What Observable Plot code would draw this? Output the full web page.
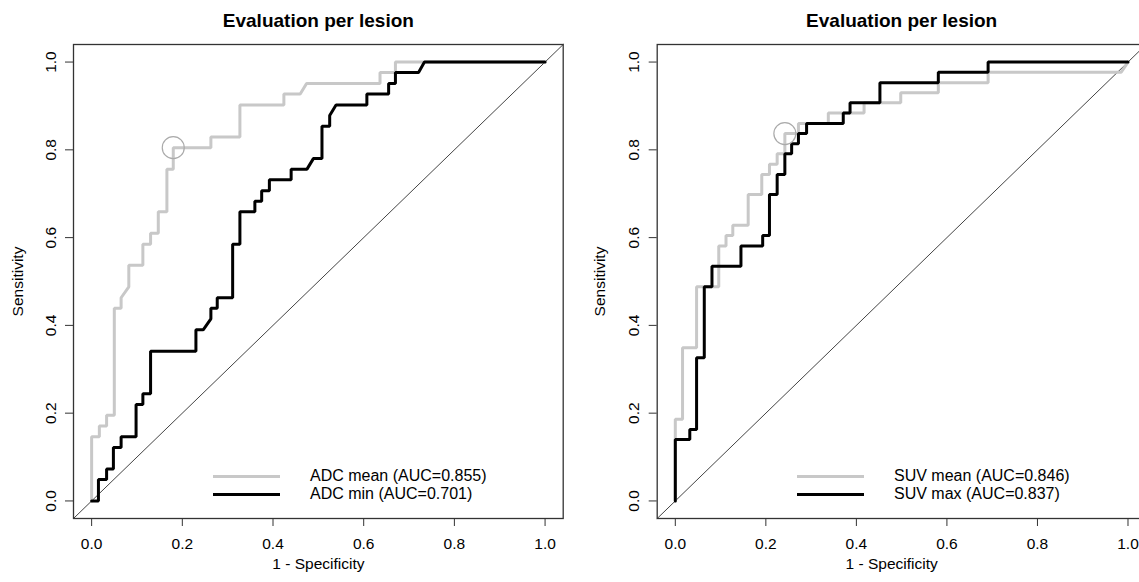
<!DOCTYPE html>
<html>
<head>
<meta charset="utf-8">
<script src="https://cdn.jsdelivr.net/npm/d3@7"></script>
<script src="https://cdn.jsdelivr.net/npm/@observablehq/plot@0.6"></script>
<style>
  html, body { margin: 0; padding: 0; background: #fff; }
  #wrap { position: relative; width: 1139px; height: 582px; overflow: hidden; font-family: "Liberation Sans", Arial, sans-serif; }
  #wrap svg.plot { position: absolute; top: 0; }
  .legend { position: absolute; font-size: 16px; color: #000; }
  .legend .row { display: flex; align-items: center; height: 18px; }
  .legend .sw { width: 67px; height: 3px; margin-right: 30px; }
</style>
</head>
<body>
<div id="wrap"></div>
<script>
// ---- data ----
const title = "Evaluation per lesion";
const xLabel = "1 - Specificity";
const yLabel = "Sensitivity";
const ticks = [0, 0.2, 0.4, 0.6, 0.8, 1.0];
const axisDomain = [-0.04, 1.04];
const chanceLine = [-0.04, 1.04];

// Left panel: ADC
const adcMeanLabel = "ADC mean (AUC=0.855)";
const adcMeanFpr = [0,0,0.017,0.017,0.033,0.033,0.050,0.050,0.065,0.065,0.082,0.082,0.113,0.113,0.130,0.130,0.147,0.147,0.166,0.166,0.180,0.180,0.263,0.263,0.327,0.327,0.424,0.424,0.460,0.474,0.636,0.636,0.670,0.670,1];
const adcMeanTpr = [0,0.146,0.146,0.171,0.171,0.195,0.195,0.439,0.439,0.463,0.488,0.537,0.537,0.585,0.585,0.610,0.610,0.659,0.659,0.756,0.756,0.805,0.805,0.829,0.829,0.902,0.902,0.927,0.927,0.951,0.951,0.976,0.976,1,1];
const adcMinLabel = "ADC min (AUC=0.701)";
const adcMinFpr = [0,0.015,0.015,0.033,0.033,0.048,0.048,0.065,0.065,0.098,0.098,0.113,0.113,0.130,0.130,0.230,0.230,0.246,0.263,0.263,0.277,0.277,0.311,0.311,0.327,0.327,0.360,0.360,0.375,0.375,0.392,0.392,0.440,0.440,0.475,0.489,0.508,0.508,0.525,0.525,0.539,0.607,0.607,0.655,0.655,0.670,0.670,0.721,0.734,1];
const adcMinTpr = [0,0,0.049,0.049,0.073,0.073,0.122,0.122,0.146,0.146,0.220,0.220,0.244,0.244,0.341,0.341,0.390,0.390,0.415,0.439,0.439,0.463,0.463,0.585,0.585,0.659,0.659,0.683,0.683,0.707,0.707,0.732,0.732,0.756,0.756,0.780,0.780,0.854,0.854,0.878,0.902,0.902,0.927,0.927,0.951,0.951,0.976,0.976,1,1];
const adcBest = {fpr: 0.180, tpr: 0.805};

// Right panel: SUV
const suvMeanLabel = "SUV mean (AUC=0.846)";
const suvMeanFpr = [0,0,0.016,0.016,0.047,0.047,0.096,0.096,0.112,0.112,0.127,0.127,0.161,0.161,0.191,0.191,0.208,0.208,0.225,0.225,0.242,0.242,0.272,0.272,0.338,0.338,0.417,0.417,0.498,0.498,0.581,0.581,0.691,0.691,0.985,1];
const suvMeanTpr = [0,0.186,0.186,0.349,0.349,0.488,0.488,0.581,0.581,0.605,0.605,0.628,0.628,0.698,0.698,0.744,0.744,0.767,0.767,0.791,0.791,0.837,0.837,0.860,0.860,0.884,0.884,0.907,0.907,0.930,0.930,0.953,0.953,0.977,0.977,1];
const suvMaxLabel = "SUV max (AUC=0.837)";
const suvMaxFpr = [0,0,0.032,0.032,0.047,0.047,0.064,0.064,0.081,0.081,0.145,0.145,0.193,0.193,0.208,0.208,0.225,0.225,0.242,0.242,0.257,0.257,0.272,0.272,0.290,0.290,0.371,0.371,0.386,0.386,0.452,0.452,0.581,0.581,0.691,0.691,1];
const suvMaxTpr = [0,0.140,0.140,0.163,0.163,0.326,0.326,0.488,0.488,0.535,0.535,0.581,0.581,0.605,0.605,0.698,0.698,0.744,0.744,0.791,0.791,0.814,0.814,0.837,0.837,0.860,0.860,0.884,0.884,0.907,0.907,0.953,0.953,0.977,0.977,1,1];
const suvBest = {fpr: 0.242, tpr: 0.837};

// ---- styles ----
const grayColor = "#c8c8c8";
const blackColor = "#000000";
const font = "'Liberation Sans', Arial, sans-serif";

function zip(xs, ys) { return xs.map((x, i) => ({x, y: ys[i]})); }

function panel({left, width, marginLeft, marginRight, grayPts, blackPts, best, xLabelDx, yLabelDx}) {
  const svg = Plot.plot({
    width, height: 582,
    marginLeft, marginRight, marginTop: 44, marginBottom: 64,
    style: {fontFamily: font, fontSize: "15.5px", color: "#000", background: "transparent", overflow: "visible"},
    x: {domain: axisDomain, axis: null},
    y: {domain: axisDomain, axis: null},
    marks: [
      Plot.line(zip(chanceLine, chanceLine), {x: "x", y: "y", stroke: "#444", strokeWidth: 1}),
      Plot.line(grayPts, {x: "x", y: "y", stroke: grayColor, strokeWidth: 3, strokeLinejoin: "miter", curve: "linear"}),
      Plot.line(blackPts, {x: "x", y: "y", stroke: blackColor, strokeWidth: 3, strokeLinejoin: "miter", curve: "linear"}),
      Plot.dot([best], {x: "fpr", y: "tpr", r: 11, stroke: "#aaaaaa", strokeWidth: 1.2, fill: "none"}),
      Plot.frame({stroke: "#333", strokeWidth: 1.3}),
      Plot.axisX({ticks, tickSize: 8, tickPadding: 11, tickFormat: d3.format(".1f"), label: null, stroke: "#333", fill: "#000", fontSize: "15.5px"}),
      Plot.axisY({ticks, tickSize: 8, tickPadding: 10, tickFormat: d3.format(".1f"), label: null, tickRotate: -90, textAnchor: "middle", stroke: "#333", fill: "#000", fontSize: "15.5px"}),
      Plot.text([title], {frameAnchor: "top", text: d => d, textAnchor: "middle", lineAnchor: "bottom", dy: -18, fontWeight: "bold", fontSize: 19, fill: "#000"}),
      Plot.text([xLabel], {frameAnchor: "bottom", text: d => d, textAnchor: "middle", lineAnchor: "bottom", dy: 50, dx: xLabelDx, fontSize: 15.5, fill: "#000"}),
      Plot.text([yLabel], {frameAnchor: "left", text: d => d, textAnchor: "middle", lineAnchor: "middle", rotate: -90, dx: yLabelDx, fontSize: 15.5, fill: "#000"})
    ]
  });
  svg.classList.add("plot");
  svg.style.left = left + "px";
  return svg;
}

function legend({left, top, items}) {
  const div = document.createElement("div");
  div.className = "legend";
  div.style.left = left + "px";
  div.style.top = top + "px";
  for (const it of items) {
    const row = document.createElement("div");
    row.className = "row";
    const sw = document.createElement("span");
    sw.className = "sw";
    sw.style.background = it.color;
    const tx = document.createElement("span");
    tx.textContent = it.label;
    row.appendChild(sw); row.appendChild(tx);
    div.appendChild(row);
  }
  return div;
}

const wrap = document.getElementById("wrap");
wrap.appendChild(panel({
  left: 0, width: 570, marginLeft: 73, marginRight: 7.3,
  grayPts: zip(adcMeanFpr, adcMeanTpr), blackPts: zip(adcMinFpr, adcMinTpr), best: adcBest,
  xLabelDx: 0, yLabelDx: -55
}));
wrap.appendChild(panel({
  left: 570, width: 580, marginLeft: 86.7, marginRight: 4.4,
  grayPts: zip(suvMeanFpr, suvMeanTpr), blackPts: zip(suvMaxFpr, suvMaxTpr), best: suvBest,
  xLabelDx: -10, yLabelDx: -57
}));
wrap.appendChild(legend({left: 213, top: 467, items: [
  {color: grayColor, label: adcMeanLabel}, {color: blackColor, label: adcMinLabel}
]}));
wrap.appendChild(legend({left: 797, top: 467, items: [
  {color: grayColor, label: suvMeanLabel}, {color: blackColor, label: suvMaxLabel}
]}));
</script>
</body>
</html>
